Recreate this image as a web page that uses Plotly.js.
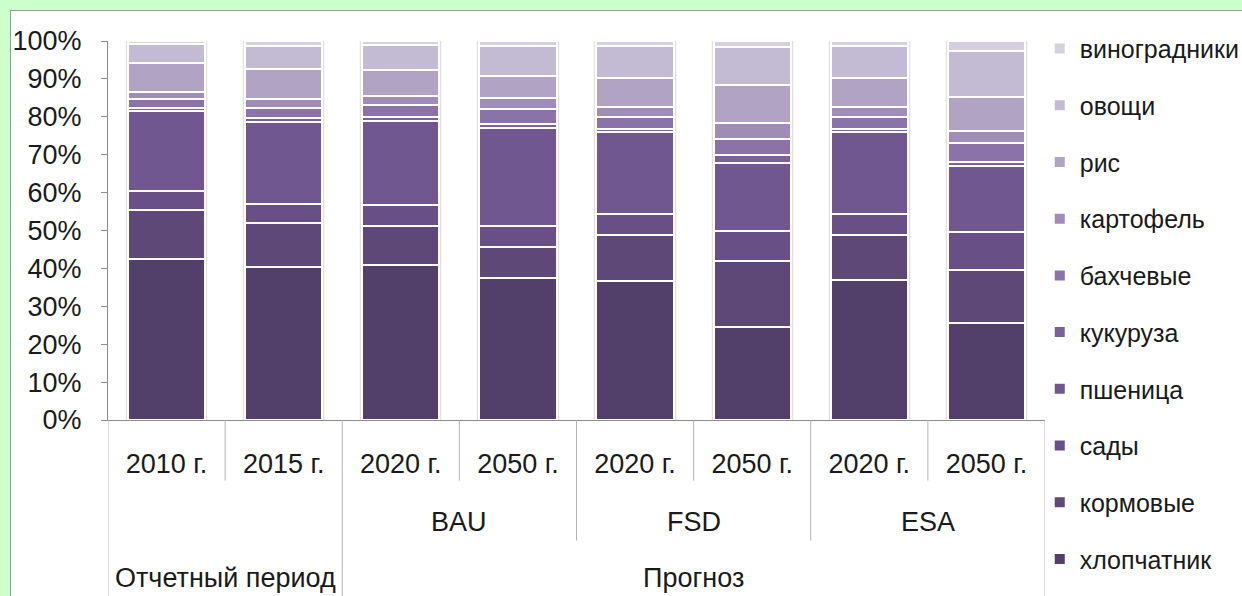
<!DOCTYPE html>
<html>
<head>
<meta charset="utf-8">
<script src="https://cdn.plot.ly/plotly-3.0.1.min.js"></script>
<style>
  html, body { margin: 0; padding: 0; background: #ccffcc; }
  #panel {
    position: absolute; left: 10px; top: 10px;
    width: 1231px; height: 585px;
    background: #ffffff;
    border-left: 1px solid #9a9a9a; border-top: 1px solid #9a9a9a;
  }
  #chart { width: 1231px; height: 585px; }
  .barlayer { filter: drop-shadow(0 0 1.2px rgba(0,0,0,0.35)); }
</style>
</head>
<body>
<div id="panel"><div id="chart"></div></div>
<script>
// Category labels: year, scenario and period for each column
const years     = ['2010 г.', '2015 г.', '2020 г.', '2050 г.', '2020 г.', '2050 г.', '2020 г.', '2050 г.'];
const scenarios = ['', '', 'BAU', 'BAU', 'FSD', 'FSD', 'ESA', 'ESA'];
const periods   = ['Отчетный период', 'Отчетный период', 'Прогноз', 'Прогноз', 'Прогноз', 'Прогноз', 'Прогноз', 'Прогноз'];

// Crop shares, % of sown area (stack order: bottom to top)
const cotton     = [42.6, 40.4, 40.9, 37.4, 36.8, 24.5, 36.9, 25.5];
const fodder     = [12.7, 11.7, 10.4,  8.3, 12.1, 17.4, 12.0, 14.1];
const orchards   = [ 5.0,  4.9,  5.5,  5.6,  5.5,  7.9,  5.5, 10.1];
const wheat      = [21.2, 21.6, 22.2, 25.7, 21.6, 18.1, 21.6, 17.3];
const maize      = [ 0.8,  1.0,  1.0,  1.0,  0.8,  1.9,  0.8,  1.2];
const melons     = [ 2.3,  2.6,  3.2,  4.1,  3.1,  4.3,  3.2,  4.8];
const potatoes   = [ 2.0,  2.5,  2.4,  2.9,  2.6,  4.2,  2.5,  3.3];
const rice       = [ 7.5,  7.9,  6.7,  5.7,  7.8, 10.0,  7.8,  8.8];
const vegetables = [ 5.0,  6.2,  6.6,  8.0,  8.5, 10.0,  8.5, 12.3];
const vineyards  = [ 0.9,  1.2,  1.1,  1.3,  1.2,  1.7,  1.2,  2.6];

const seriesNames  = ['хлопчатник', 'кормовые', 'сады', 'пшеница', 'кукуруза', 'бахчевые', 'картофель', 'рис', 'овощи', 'виноградники'];
const seriesValues = [cotton, fodder, orchards, wheat, maize, melons, potatoes, rice, vegetables, vineyards];
const seriesColors = ['#52406b', '#5e4877', '#684f86', '#71578f', '#7b619a', '#8b72a9', '#a08db7', '#b0a3c3', '#c3bbd3', '#d6cfe0'];

const FONT = 'Liberation Sans Narrow, Arial Narrow, Liberation Sans, Arial, sans-serif';
const TXT = '#1a1a1a';
const GRID = '#b4b4b4';

const xIdx = years.map((_, i) => i);

// Legend lists the top segment first
const traces = seriesNames.map((name, k) => ({
  type: 'bar',
  name: name,
  x: xIdx,
  y: seriesValues[k],
  width: 0.66,
  legendgroup: 'g' + k,
  legendrank: (seriesNames.length - k) * 10,
  marker: { color: seriesColors[k], line: { color: '#ffffff', width: 2 } },
  hovertemplate: name + ': %{y}%<extra></extra>'
}));

// Divider lines and group labels under the category axis
const shapes = [];
const annotations = [];
const ROW1 = -0.16, ROW2 = -0.318, ROW3 = -0.5;

function runs(arr) {
  const out = [];
  let s = 0;
  for (let i = 1; i <= arr.length; i++) {
    if (i === arr.length || arr[i] !== arr[s]) { out.push({ label: arr[s], from: s, to: i - 1 }); s = i; }
  }
  return out;
}

function vline(x, yEnd) {
  shapes.push({ type: 'line', xref: 'x', yref: 'paper', x0: x, x1: x, y0: 0, y1: yEnd,
                line: { color: GRID, width: 1 } });
}

const periodRuns = runs(periods);
const scenarioRuns = runs(scenarios.map((s, i) => periods[i] + '|' + s));

for (let i = 0; i <= years.length; i++) {
  const b = i - 0.5;
  const periodEdge = i === 0 || i === years.length || periodRuns.some(r => r.from === i);
  const scenEdge = scenarioRuns.some(r => r.from === i);
  vline(b, periodEdge ? ROW3 : (scenEdge ? ROW2 : ROW1));
}

scenarioRuns.forEach(r => {
  const label = r.label.split('|')[1];
  if (label) annotations.push({ xref: 'x', yref: 'paper', x: (r.from + r.to) / 2, y: -0.269,
    yanchor: 'middle', text: label, showarrow: false, font: { family: FONT, size: 27, color: TXT } });
});
periodRuns.forEach(r => {
  annotations.push({ xref: 'x', yref: 'paper', x: (r.from + r.to) / 2, y: -0.417,
    yanchor: 'middle', text: r.label, showarrow: false, font: { family: FONT, size: 27, color: TXT } });
});

const layout = {
  width: 1231, height: 585,
  margin: { l: 97, r: 197, t: 30, b: 176, autoexpand: false },
  paper_bgcolor: '#ffffff', plot_bgcolor: '#ffffff',
  barmode: 'stack',
  font: { family: FONT, size: 27, color: TXT },
  showlegend: true,
  legend: {
    x: 0.9944, xanchor: 'left', y: 1.04, yanchor: 'top',
    traceorder: 'grouped', tracegroupgap: 21.2,
    maxheight: 600,
    font: { family: FONT, size: 25, color: TXT },
    bgcolor: 'rgba(0,0,0,0)'
  },
  xaxis: {
    range: [-0.5, years.length - 0.5],
    tickmode: 'array', tickvals: xIdx, ticktext: years,
    showline: true, linecolor: '#8c8c8c', linewidth: 1,
    showgrid: false, zeroline: false, ticks: '',
    ticklabelstandoff: 20,
    tickfont: { family: FONT, size: 27, color: TXT },
    fixedrange: true
  },
  yaxis: {
    range: [0, 100], dtick: 10, ticksuffix: '%',
    showline: true, linecolor: '#8c8c8c', linewidth: 1,
    ticks: 'outside', ticklen: 6, tickcolor: '#8c8c8c',
    showgrid: false, zeroline: false,
    ticklabelstandoff: 14,
    tickfont: { family: FONT, size: 27, color: TXT },
    fixedrange: true
  },
  shapes: shapes,
  annotations: annotations
};

Plotly.newPlot('chart', traces, layout, { displayModeBar: false, staticPlot: true });
</script>
</body>
</html>
